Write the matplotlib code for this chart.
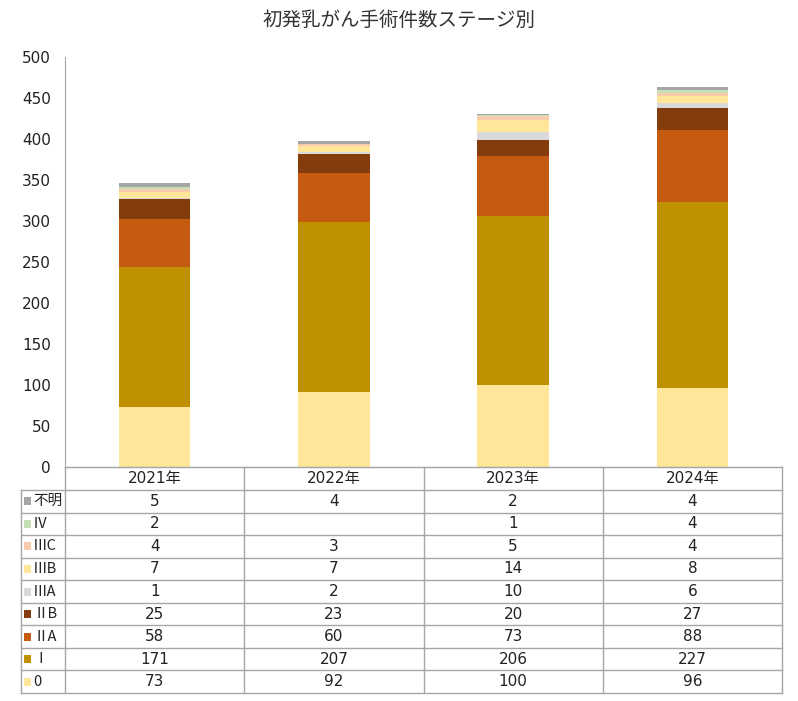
import matplotlib
matplotlib.use("Agg")
import matplotlib.pyplot as plt
from matplotlib.lines import Line2D
from matplotlib.patches import Rectangle
import numpy as np

plt.rcParams['font.family'] = ['DejaVu Sans', 'Noto Sans CJK JP']
cjk = ['Noto Sans CJK JP', 'DejaVu Sans']

years = ['2021年', '2022年', '2023年', '2024年']
stages = ['0', 'Ⅰ', 'ⅡA', 'ⅡB', 'ⅢA', 'ⅢB', 'ⅢC', 'Ⅳ', '不明']
colors = ['#FFE699', '#BF9000', '#C55A11', '#843C0C', '#D9D9D9',
          '#FFE699', '#F8CBAD', '#C5E0B4', '#A5A5A5']

v_0 = [73, 92, 100, 96]
v_1 = [171, 207, 206, 227]
v_2a = [58, 60, 73, 88]
v_2b = [25, 23, 20, 27]
v_3a = [1, 2, 10, 6]
v_3b = [7, 7, 14, 8]
v_3c = [4, 3, 5, 4]
v_4 = [2, None, 1, 4]
v_unk = [5, 4, 2, 4]
series = [v_0, v_1, v_2a, v_2b, v_3a, v_3b, v_3c, v_4, v_unk]

W, H = 798, 701
fig = plt.figure(figsize=(W / 100, H / 100), dpi=100)


def fx(x):
    return x / W


def fy(y):
    return 1 - y / H


left, right, top, bottom = 65, 782, 57, 467
ax = fig.add_axes([fx(left), fy(bottom), fx(right - left), fy(top) - fy(bottom)])

x = np.arange(len(years))
base = np.zeros(len(years))
for vals, c in zip(series, colors):
    v = np.array([0 if a is None else a for a in vals], dtype=float)
    ax.bar(x, v, bottom=base, width=0.4, color=c, linewidth=0)
    base += v

ax.set_xlim(-0.5, 3.5)
ax.set_ylim(0, 500)
ax.set_yticks(range(0, 501, 50))
ax.set_xticks([])
ax.tick_params(axis='y', length=0, pad=10, labelsize=11, labelcolor='#222222')
for s in ['top', 'right']:
    ax.spines[s].set_visible(False)
ax.spines['left'].set_color('#A6A6A6')
ax.spines['bottom'].set_color('#A6A6A6')

fig.text(0.5, fy(20), '初発乳がん手術件数ステージ別', ha='center', va='center',
         fontsize=14, color='#333333', family=cjk)

# table under the chart
line_c = '#A6A6A6'
tab_left = 21
col_w = (right - left) / len(years)
head_bot = 490
tab_bot = 693
row_h = (tab_bot - head_bot) / len(stages)


def hline(y, x0, x1):
    fig.add_artist(Line2D([fx(x0), fx(x1)], [fy(y), fy(y)], color=line_c, lw=1))


def vline(xp, y0, y1):
    fig.add_artist(Line2D([fx(xp), fx(xp)], [fy(y0), fy(y1)], color=line_c, lw=1))


hline(bottom, left, right)
for i in range(len(stages) + 1):
    hline(head_bot + i * row_h, tab_left, right)
vline(tab_left, head_bot, tab_bot)
for j in range(len(years) + 1):
    vline(left + j * col_w, bottom, tab_bot)

for j, yr in enumerate(years):
    fig.text(fx(left + (j + 0.5) * col_w), fy((bottom + head_bot) / 2), yr,
             ha='center', va='center', fontsize=11, color='#222222')

rows = list(zip(stages, series, colors))[::-1]
for i, (name, vals, c) in enumerate(rows):
    yc = head_bot + (i + 0.5) * row_h
    fig.add_artist(Rectangle((fx(24), fy(yc + 4)), fx(7), fy(yc - 4) - fy(yc + 4),
                             color=c, lw=0))
    fig.text(fx(33), fy(yc), name, ha='left', va='center', fontsize=10.5,
             color='#222222', family=cjk)
    for j, v in enumerate(vals):
        if v is None:
            continue
        fig.text(fx(left + (j + 0.5) * col_w), fy(yc), str(v), ha='center', va='center',
                 fontsize=11, color='#222222')

fig.savefig('out.png', dpi=100)
